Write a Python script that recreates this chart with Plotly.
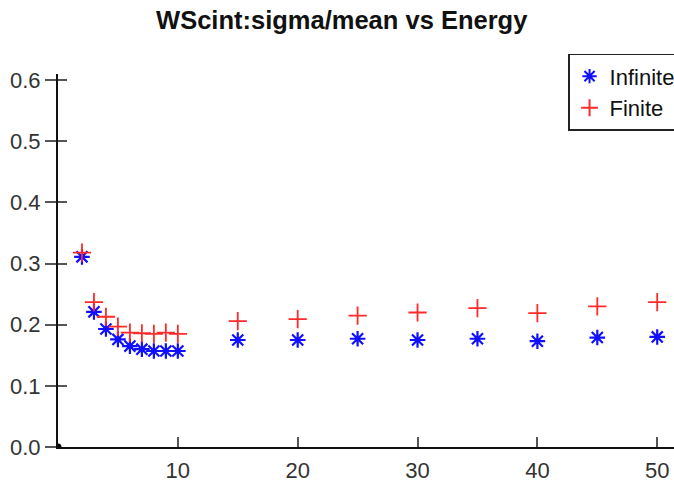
import plotly.graph_objects as go

energy = [2, 3, 4, 5, 6, 7, 8, 9, 10, 15, 20, 25, 30, 35, 40, 45, 50]
infinite = [0.311, 0.221, 0.193, 0.176, 0.165, 0.160, 0.157, 0.157, 0.157,
            0.175, 0.175, 0.177, 0.175, 0.177, 0.173, 0.179, 0.180]
finite = [0.318, 0.237, 0.213, 0.197, 0.187, 0.186, 0.185, 0.187, 0.185,
          0.206, 0.209, 0.215, 0.220, 0.227, 0.219, 0.230, 0.237]
x_ticks = [10, 20, 30, 40, 50]
y_ticks = [0.0, 0.1, 0.2, 0.3, 0.4, 0.5, 0.6]

FONT = "Liberation Sans, Arial, sans-serif"
PAD = "\u00a0" * 6

fig = go.Figure()
fig.add_trace(go.Scatter(
    x=energy, y=infinite, mode="markers", name="Infinite" + PAD,
    marker=dict(symbol="asterisk-open", size=13, color="#1010ff",
                line=dict(color="#1010ff", width=2.2)),
))
fig.add_trace(go.Scatter(
    x=energy, y=finite, mode="markers", name="Finite",
    marker=dict(symbol="cross-thin-open", size=13, color="#ff2a2a",
                line=dict(color="#ff2a2a", width=1.8)),
))

fig.update_layout(
    width=674, height=488,
    margin=dict(l=58, r=0, t=74, b=41, autoexpand=False),
    paper_bgcolor="white", plot_bgcolor="white",
    font=dict(family=FONT, size=20, color="#222"),
    title=dict(text="<b>WScint:sigma/mean vs Energy</b>",
               x=0.507, xref="container", xanchor="center",
               y=0.959, yref="container", yanchor="middle",
               font=dict(family=FONT, size=25.5, color="#111")),
    showlegend=True,
    legend=dict(x=0.828, y=1.054, xanchor="left", yanchor="top",
                bordercolor="#222", borderwidth=1.5, bgcolor="white",
                font=dict(family=FONT, size=22, color="#111"),
                itemsizing="constant", tracegroupgap=0),
    xaxis=dict(range=[0, 51.4], tickvals=x_ticks, ticks="inside", ticklen=10,
               tickwidth=2, tickcolor="#555", showline=True, linecolor="#111",
               linewidth=2, showgrid=False, zeroline=False,
               tickfont=dict(family=FONT, size=22, color="#333"),
               ticklabelstandoff=3),
    yaxis=dict(range=[0, 0.61], tickvals=y_ticks, tickformat=".1f",
               ticks="outside", ticklen=11, tickwidth=2, tickcolor="#555",
               showline=True, linecolor="#111", linewidth=2, showgrid=False,
               zeroline=False, tickfont=dict(family=FONT, size=22, color="#333")),
    yaxis2=dict(range=[0, 0.61], tickvals=y_ticks, overlaying="y", side="left",
                anchor="x", ticks="inside", ticklen=9, tickwidth=2,
                tickcolor="#555", showticklabels=False, showline=False,
                showgrid=False, zeroline=False),
)

# invisible trace to activate the inside-tick overlay axis
fig.add_trace(go.Scatter(x=[None], y=[None], yaxis="y2", showlegend=False,
                         hoverinfo="skip"))

fig.add_shape(type="circle", xref="x", yref="y", xsizemode="pixel",
              ysizemode="pixel", xanchor=0, yanchor=0,
              x0=-3.5, x1=3.5, y0=-3.5, y1=3.5,
              fillcolor="#000", line=dict(color="#000", width=0))

fig.write_html("out.html")
